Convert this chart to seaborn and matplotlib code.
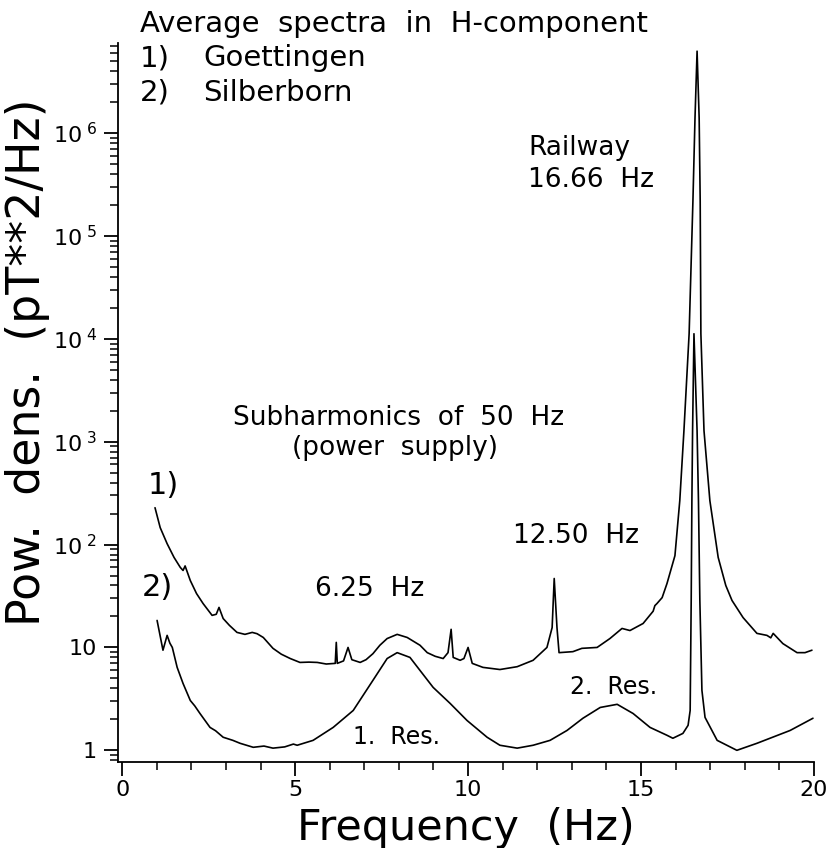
import matplotlib
matplotlib.use("Agg")
import matplotlib.pyplot as plt
import numpy as np
import pandas as pd
import seaborn as sns
from matplotlib.ticker import FixedLocator, LogLocator, MultipleLocator, NullFormatter

# ---- spectra (frequency in Hz, power density in pT**2/Hz) ----
freq_goettingen = [
    0.95, 1.10, 1.30, 1.50, 1.68, 1.76, 1.82, 1.97, 2.15, 2.34, 2.60, 2.72, 2.80, 2.92,
    3.10, 3.32, 3.55, 3.76, 3.90, 4.08, 4.36, 4.60, 4.86, 5.14, 5.40, 5.64, 5.90, 6.16,
    6.19, 6.22, 6.40, 6.53, 6.64, 6.88, 7.05, 7.25, 7.45, 7.66, 7.95, 8.24, 8.61, 8.82,
    9.05, 9.28, 9.42, 9.51, 9.57, 9.77, 9.88, 10.00, 10.12, 10.43, 10.92, 11.42, 11.88,
    12.28, 12.43, 12.49, 12.57, 12.63, 13.03, 13.29, 13.73, 14.10, 14.45, 14.68, 15.06,
    15.35, 15.40, 15.46, 15.61, 15.75, 15.98, 16.12, 16.24, 16.39, 16.50, 16.56, 16.62,
    16.68, 16.71, 16.73, 16.82, 16.99, 17.23, 17.45, 17.63, 17.95, 18.35, 18.64, 18.75,
    18.82, 19.10, 19.51, 19.74, 19.94,
]
psd_goettingen = [
    228, 146, 102, 75, 60, 56, 62, 44.7, 33.4, 26.7, 20.5, 21, 24.5, 19.1,
    16.4, 14.0, 13.4, 14.0, 13.6, 12.5, 9.8, 8.6, 7.8, 7.15, 7.2, 7.15, 6.9, 7.0,
    11.2, 7.0, 7.4, 10.0, 7.6, 7.15, 7.6, 8.7, 10.5, 12.2, 13.4, 12.5, 10.5, 8.9,
    8.2, 7.8, 8.9, 15.0, 8.0, 7.5, 7.8, 10.0, 7.0, 6.4, 6.1, 6.5, 7.5,
    10.0, 15.6, 46.8, 15.6, 8.9, 9.1, 9.8, 10.0, 12.2, 15.3, 14.6, 17.1,
    22.5, 25.5, 26.7, 30.5, 41.8, 78, 267, 1279, 11200, 2.19e5, 1.4e6, 6.25e6,
    1.4e6, 2.19e5, 11200, 1279, 267, 75, 40, 28.6, 19.5, 13.7, 13.1, 12.4,
    13.7, 10.9, 8.9, 8.9, 9.4,
]

freq_silberborn = [
    1.01, 1.18, 1.30, 1.38, 1.45, 1.59, 1.76, 1.97, 2.10, 2.25, 2.54, 2.70, 2.92, 3.20,
    3.41, 3.79, 4.10, 4.36, 4.70, 4.95, 5.06, 5.52, 6.10, 6.68, 7.25, 7.66, 7.95, 8.32,
    8.61, 8.99, 9.48, 9.97, 10.55, 10.92, 11.42, 11.88, 12.37, 12.86, 13.32, 13.82,
    14.31, 14.77, 15.26, 15.75, 15.92, 16.21, 16.36, 16.42, 16.45, 16.47, 16.49, 16.53,
    16.62, 16.66, 16.70, 16.76, 16.85, 17.20, 17.77, 18.35, 19.31, 19.97,
]
psd_silberborn = [
    18.3, 9.4, 13.1, 11.0, 10.0, 6.4, 4.47, 3.05, 2.7, 2.28, 1.67, 1.55, 1.34, 1.25,
    1.17, 1.07, 1.10, 1.05, 1.08, 1.15, 1.12, 1.25, 1.67, 2.44, 4.79, 7.8, 8.9, 8.0,
    5.98, 4.09, 2.86, 1.95, 1.34, 1.12, 1.05, 1.12, 1.25, 1.56, 2.05, 2.61,
    2.80, 2.28, 1.67, 1.40, 1.31, 1.46, 1.75, 2.44, 28.6, 267, 1279, 11200,
    1279, 267, 28.6, 3.83, 2.09, 1.25, 1.0, 1.17, 1.56, 2.05,
]

y_major = [1, 10, 100, 1e3, 1e4, 1e5, 1e6]
y_major_labels = ["1", "10", "10$^{\\ 2}$", "10$^{\\ 3}$", "10$^{\\ 4}$",
                  "10$^{\\ 5}$", "10$^{\\ 6}$"]

sns.set_theme(style="ticks")
plt.rcParams["font.family"] = ["DejaVu Sans"]
plt.rcParams["mathtext.default"] = "regular"
plt.rcParams["text.color"] = "black"

W, H = 831, 848
fig = plt.figure(figsize=(W / 100, H / 100), dpi=100)
fig.patch.set_facecolor("white")
ax = fig.add_axes([118 / W, 1 - 762 / H, (814 - 118) / W, (762 - 43) / H])
ax.set_facecolor("white")

df1 = pd.DataFrame({"f": freq_goettingen, "p": psd_goettingen})
df2 = pd.DataFrame({"f": freq_silberborn, "p": psd_silberborn})
sns.lineplot(data=df1, x="f", y="p", ax=ax, color="black", linewidth=1.2,
             estimator=None, sort=False)
sns.lineplot(data=df2, x="f", y="p", ax=ax, color="black", linewidth=1.2,
             estimator=None, sort=False)

ax.set_yscale("log")
ax.set_xlim(-0.12, 20)
ax.set_ylim(0.77, 7.5e6)

ax.xaxis.set_major_locator(MultipleLocator(5))
ax.xaxis.set_minor_locator(MultipleLocator(1))
ax.yaxis.set_major_locator(FixedLocator(y_major))
ax.set_yticklabels(y_major_labels)
ax.yaxis.set_minor_locator(LogLocator(base=10, subs=np.arange(2, 10), numticks=30))
ax.yaxis.set_minor_formatter(NullFormatter())

ax.tick_params(which="major", direction="out", length=10, width=1.3, color="black",
               labelsize=16, labelcolor="black")
ax.tick_params(which="minor", direction="out", length=6, width=1.1, color="black")
ax.tick_params(axis="y", pad=5)
ax.tick_params(axis="x", pad=3)

sns.despine(ax=ax)
for side in ("left", "bottom"):
    ax.spines[side].set_color("black")
    ax.spines[side].set_linewidth(1.3)

ax.set_xlabel("Frequency  (Hz)", fontsize=31, color="black")
ax.xaxis.set_label_coords(0.5, -0.062)
ax.set_ylabel("Pow.  dens.  (pT**2/Hz)", fontsize=33, color="black")
ax.yaxis.set_label_coords(-0.098, 0.556)

# header and station legend
def fig_text(px, py, s, **kw):
    fig.text(px / W, 1 - py / H, s, va="center", ha="left", **kw)

fig_text(140, 24, "Average  spectra  in  H-component", fontsize=21)
fig_text(140, 58, "1)", fontsize=21)
fig_text(203, 58, "Goettingen", fontsize=21)
fig_text(140, 93, "2)", fontsize=21)
fig_text(203, 93, "Silberborn", fontsize=21)

# annotations on the spectra
ax.text(0.75, 374, "1)", fontsize=22, va="center")
ax.text(0.58, 38.3, "2)", fontsize=22, va="center")
ax.text(3.21, 1710, "Subharmonics  of  50  Hz", fontsize=19, va="center")
ax.text(4.91, 871, "(power  supply)", fontsize=19, va="center")
ax.text(5.58, 37.4, "6.25  Hz", fontsize=19, va="center")
ax.text(11.3, 122, "12.50  Hz", fontsize=19, va="center")
ax.text(11.73, 7.1e5, "Railway", fontsize=19, va="center")
ax.text(11.73, 3.5e5, "16.66  Hz", fontsize=19, va="center")
ax.text(6.68, 1.34, "1.  Res.", fontsize=17, va="center")
ax.text(12.95, 4.1, "2.  Res.", fontsize=17, va="center")

fig.savefig("out.png", dpi=100, facecolor="white")
